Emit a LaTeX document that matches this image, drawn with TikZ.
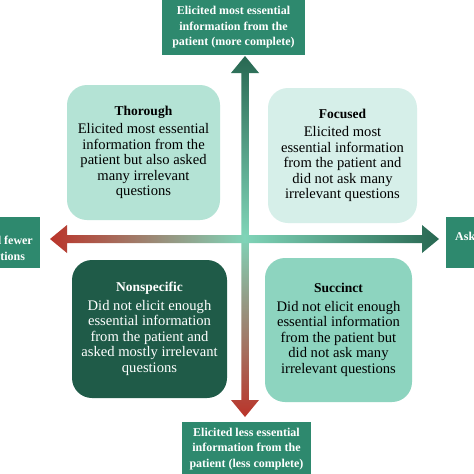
\documentclass[tikz,border=0pt]{standalone}
\usepackage{fontspec}
\setmainfont{Liberation Serif}
\usetikzlibrary{positioning, calc}

\definecolor{axisteal}{RGB}{46,137,110}
\definecolor{thoroughfill}{RGB}{180,227,213}
\definecolor{focusedfill}{RGB}{214,239,233}
\definecolor{nonspecfill}{RGB}{31,91,72}
\definecolor{succinctfill}{RGB}{141,212,191}
\definecolor{axisdark}{RGB}{40,104,82}
\definecolor{axislight}{RGB}{128,212,184}
\definecolor{axisred}{RGB}{186,52,42}

\pgfdeclarehorizontalshading{xaxisshade}{100bp}{color(0bp)=(axisred); color(25bp)=(axisred); color(50bp)=(axislight); color(75bp)=(axisdark); color(100bp)=(axisdark)}
\pgfdeclareverticalshading{yaxisshade}{100bp}{color(0bp)=(axisred); color(25bp)=(axisred); color(50bp)=(axislight); color(75bp)=(axisdark); color(100bp)=(axisdark)}

\tikzset{
    axisbox/.style={
        rectangle,
        fill=axisteal,
        text=white,
        inner sep=0pt,
        align=center,
        font=\fontsize{12}{15.5}\selectfont\bfseries
    },
    axistext/.style={
        text=white,
        inner sep=0pt,
        align=center,
        font=\fontsize{12}{15.5}\selectfont\bfseries
    },
    quadbox/.style={
        rectangle,
        rounded corners=20pt,
        inner sep=0pt,
        align=center,
        font=\fontsize{14.6}{15.5}\selectfont
    },
}

\newcommand{\quadtitle}[1]{{\fontsize{13.5}{15.5}\selectfont\bfseries #1}\\[3pt]}

\begin{document}
\begin{tikzpicture}[x=1pt, y=-1pt]

\useasboundingbox (0,0) rectangle (474,474);
\clip (0,0) rectangle (474,474);
\fill[white] (0,0) rectangle (474,474);

% Axis ends
\node[axisbox, minimum width=143pt, minimum height=55pt] (more) at (233.5,27.5) {
    Elicited most essential\\
    information from the\\
    patient (more complete)
};

\node[axisbox, minimum width=129pt, minimum height=54pt] (less) at (246.5,449) {
    Elicited less essential\\
    information from the\\
    patient (less complete)
};

\node[axisbox, minimum width=80pt, minimum height=51pt] (fewer) at (0,242.5) {};
\node[axistext] (fewerlbl) at ($(fewer)+(1,7)$) {Asked fewer\\questions};

\node[axisbox, minimum width=80pt, minimum height=51pt] (manyq) at (486,242.5) {};
\node[axistext, anchor=west] (manyqlbl) at (455,236) {Asked more};

% Axis arrows
\coordinate (ytop) at (245,56);
\coordinate (ybot) at (245,417);
\coordinate (xleft) at (50,239);
\coordinate (xright) at (439,239);

\shade[shading=yaxisshade] (ytop) -- ++(14,17) -- ++(-10.25,0)
    -- ($(ybot)+(3.75,-17)$) -- ++(10.25,0) -- (ybot) -- ++(-14,-17)
    -- ++(10.25,0) -- ($(ytop)+(-3.75,17)$) -- ++(-10.25,0) -- cycle;

\shade[shading=xaxisshade] (xleft) -- ++(17,-14) -- ++(0,10)
    -- ($(xright)+(-17,-4)$) -- ++(0,-10) -- (xright) -- ++(-17,14)
    -- ++(0,-10) -- ($(xleft)+(17,4)$) -- ++(0,10) -- cycle;

% Box Thorough
\node[quadbox, fill=thoroughfill, minimum width=153pt, minimum height=135pt] (thorough) at (143.5,152.5) {
    \quadtitle{Thorough}
    Elicited most essential\\
    information from the\\
    patient but also asked\\
    many irrelevant\\
    questions
};

% Box Focused
\node[quadbox, fill=focusedfill, minimum width=149pt, minimum height=135pt] (focused) at (342.5,155.5) {
    \quadtitle{Focused}
    Elicited most\\
    essential information\\
    from the patient and\\
    did not ask many\\
    irrelevant questions
};

% Box Nonspecific
\node[quadbox, fill=nonspecfill, text=white, minimum width=155pt, minimum height=138pt] (nonspecific) at (149.5,329) {
    \quadtitle{Nonspecific}
    Did not elicit enough\\
    essential information\\
    from the patient and\\
    asked mostly irrelevant\\
    questions
};

% Box Succinct
\node[quadbox, fill=succinctfill, minimum width=147pt, minimum height=144pt] (succinct) at (338.5,330) {
    \quadtitle{Succinct}
    Did not elicit enough\\
    essential information\\
    from the patient but\\
    did not ask many\\
    irrelevant questions
};

\end{tikzpicture}
\end{document}
